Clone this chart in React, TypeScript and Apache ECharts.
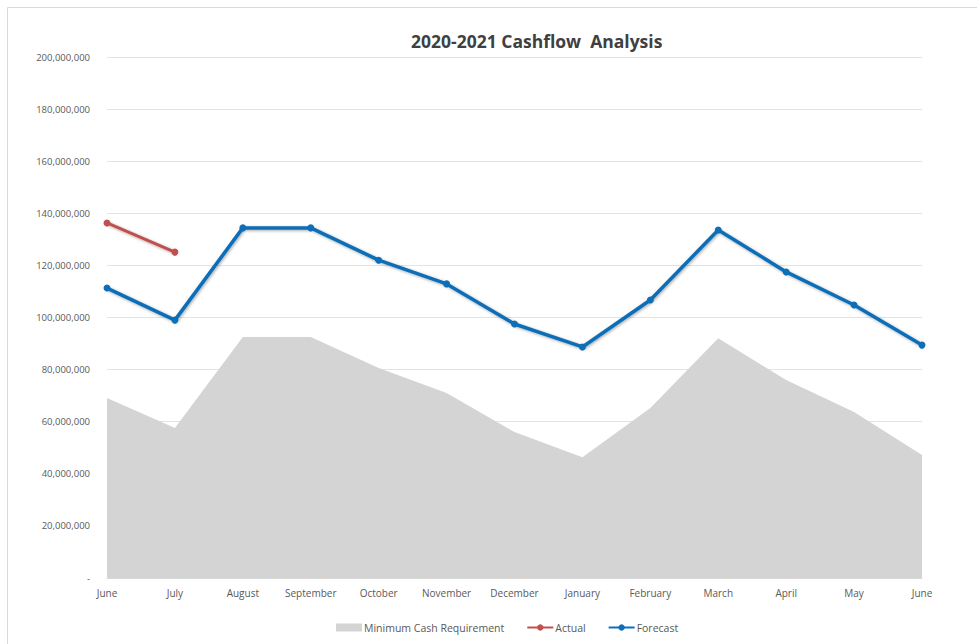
import React, { useEffect, useRef } from "react";
import * as echarts from "echarts";

const categories = ["June", "July", "August", "September", "October", "November", "December", "January", "February", "March", "April", "May", "June"];
const minCash = [69100000, 57600000, 92500000, 92500000, 80600000, 71000000, 56000000, 46400000, 65300000, 92000000, 76000000, 63700000, 47200000];
const actual = [136300000, 125100000];
const forecast = [111300000, 99000000, 134400000, 134400000, 122000000, 112900000, 97500000, 88700000, 106700000, 133600000, 117500000, 104800000, 89400000];
const yTicks = { min: 0, max: 200000000, interval: 20000000 };

const FONT = "'Open Sans', 'Liberation Sans', sans-serif";

export default function App() {
  const ref = useRef<HTMLDivElement>(null);
  useEffect(() => {
    if (!ref.current) return;
    const chart = echarts.init(ref.current, undefined, { renderer: "svg" });
    const lineShadow = { shadowColor: "rgba(0,0,0,0.35)", shadowBlur: 3, shadowOffsetX: 1, shadowOffsetY: 1 };
    chart.setOption({
      animation: false,
      backgroundColor: "#ffffff",
      title: {
        text: "2020-2021 Cashflow  Analysis",
        left: 406,
        top: 27,
        textStyle: { fontFamily: FONT, fontSize: 17.5, fontWeight: "bold", color: "#404040" },
      },
      graphic: [
        {
          type: "rect",
          shape: { x: 7.5, y: 7.5, width: 990, height: 660 },
          style: { fill: "none", stroke: "#d9d9d9", lineWidth: 1 },
          silent: true,
        },
      ],
      legend: {
        bottom: 6,
        left: 331,
        itemGap: 22,
        itemWidth: 26,
        itemHeight: 8,
        textStyle: { fontFamily: FONT, fontSize: 10.5, color: "#595959", padding: [0, 0, 0, -3] },
        data: [
          { name: "Minimum Cash Requirement", icon: "rect", itemStyle: { color: "#d4d4d4" } },
          { name: "Actual" },
          { name: "Forecast" },
        ],
      },
      grid: { left: 107, right: 55, top: 57, bottom: 66 },
      xAxis: {
        type: "category",
        data: categories,
        boundaryGap: false,
        axisLine: { show: true, lineStyle: { color: "#d9d9d9" } },
        axisTick: { show: false },
        axisLabel: { fontFamily: FONT, fontSize: 10, color: "#595959", margin: 10, interval: 0 },
      },
      yAxis: {
        type: "value",
        min: yTicks.min,
        max: yTicks.max,
        interval: yTicks.interval,
        axisLine: { show: false },
        axisTick: { show: false },
        splitLine: { lineStyle: { color: "#e3e3e3", width: 1 } },
        axisLabel: {
          fontFamily: FONT,
          fontSize: 9.5,
          color: "#595959",
          margin: 17,
          formatter: (v: number) => (v === 0 ? "-" : v.toLocaleString("en-US")),
        },
      },
      series: [
        {
          name: "Minimum Cash Requirement",
          type: "line",
          data: minCash,
          symbol: "none",
          lineStyle: { width: 0 },
          itemStyle: { color: "#d4d4d4" },
          areaStyle: { color: "#d4d4d4", opacity: 1 },
          z: 2,
        },
        {
          name: "Actual",
          type: "line",
          data: actual,
          symbol: "circle",
          symbolSize: 7,
          itemStyle: { color: "#c0504d" },
          lineStyle: { color: "#c0504d", width: 3, ...lineShadow },
          z: 3,
        },
        {
          name: "Forecast",
          type: "line",
          data: forecast,
          symbol: "circle",
          symbolSize: 7,
          itemStyle: { color: "#0e6eb8" },
          lineStyle: { color: "#0e6eb8", width: 3.5, ...lineShadow },
          z: 4,
        },
      ],
    });
    return () => chart.dispose();
  }, []);
  return <div ref={ref} style={{ position: "absolute", left: 0, top: 0, width: 977, height: 644 }} />;
}
